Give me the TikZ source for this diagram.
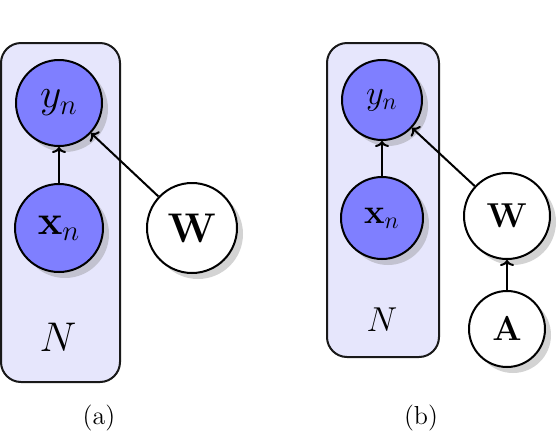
\documentclass[tikz,border=0pt]{standalone}
\usetikzlibrary{shadows,arrows.meta}
\definecolor{obsfill}{RGB}{127,127,255}
\definecolor{platefill}{RGB}{230,230,252}
\begin{document}
\begin{tikzpicture}[x=0.5pt,y=-0.5pt,
  plate/.style={draw=black!90,line width=1pt,fill=platefill,rounded corners=10pt},
  varA/.style={circle,draw=black,line width=1pt,inner sep=0pt,font=\fontsize{20}{22}\selectfont,
     drop shadow={opacity=0.35,shadow xshift=3pt,shadow yshift=-3pt}},
  varB/.style={varA,font=\fontsize{18}{20}\selectfont},
  obs/.style={fill=obsfill},
  lat/.style={fill=white},
  edge/.style={-{To[length=3pt,width=7pt]},line width=1pt},
  captext/.style={font=\fontsize{13}{15}\selectfont},
  platelabel/.style={font=\fontsize{20}{22}\selectfont}]
\useasboundingbox (0,0) rectangle (558,440);
% panel (a)
\draw[plate] (1,43) rectangle (120,382);
\node[varA,obs,minimum size=43pt] (ya) at (59,103) {$y_n$};
\node[varA,obs,minimum size=44pt] (xa) at (59,228) {$\mathbf{x}_n$};
\node[varA,lat,minimum size=45pt] (Wa) at (192,228) {$\mathbf{W}$};
\node[platelabel] (Na) at (58,337) {$N$};
\draw[edge] (xa) -- (ya);
\draw[edge] (Wa) -- (ya);
\node[captext] (capa) at (99,418) {(a)};
% panel (b)
\draw[plate] (327,43) rectangle (439,357);
\node[varB,obs,minimum size=40pt] (yb) at (382,100) {$y_n$};
\node[varB,obs,minimum size=41pt] (xb) at (382,218) {$\mathbf{x}_n$};
\node[varB,lat,minimum size=43pt] (Wb) at (507,216) {$\mathbf{W}$};
\node[varB,lat,minimum size=38pt] (Ab) at (507,329) {$\mathbf{A}$};
\node[font=\fontsize{18}{20}\selectfont] (Nb) at (382,320) {$N$};
\draw[edge] (xb) -- (yb);
\draw[edge] (Wb) -- (yb);
\draw[edge] (Ab) -- (Wb);
\node[captext] (capb) at (421,418) {(b)};
\end{tikzpicture}
\end{document}
